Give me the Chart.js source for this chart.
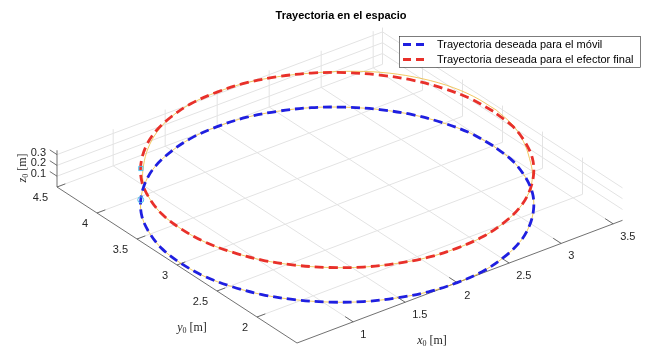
<!DOCTYPE html>
<html>
<head>
<meta charset="utf-8">
<script src="https://cdn.jsdelivr.net/npm/chart.js@4.4.1/dist/chart.umd.min.js"></script>
<style>
  html, body { margin: 0; background: #fff; }
  canvas { display: block; }
</style>
</head>
<body>
<canvas id="trayectoria" width="648" height="347"></canvas>
<script>
// Desired path in the floor plane (every 10 degrees), in metres
const circleX = [3.50, 3.48, 3.41, 3.30, 3.15, 2.96, 2.75, 2.51, 2.26, 2.00, 1.74, 1.49, 1.25, 1.04, 0.85, 0.70, 0.59, 0.52,
                 0.50, 0.52, 0.59, 0.70, 0.85, 1.04, 1.25, 1.49, 1.74, 2.00, 2.26, 2.51, 2.75, 2.96, 3.15, 3.30, 3.41, 3.48];
const circleY = [3.00, 3.26, 3.51, 3.75, 3.96, 4.15, 4.30, 4.41, 4.48, 4.50, 4.48, 4.41, 4.30, 4.15, 3.96, 3.75, 3.51, 3.26,
                 3.00, 2.74, 2.49, 2.25, 2.04, 1.85, 1.70, 1.59, 1.52, 1.50, 1.52, 1.59, 1.70, 1.85, 2.04, 2.25, 2.49, 2.74];
const zMovil = 0;
const zEfector = 0.32;

// Measured (real) paths
const realMovilX = [3.50, 3.48, 3.41, 3.30, 3.15, 2.96, 2.75, 2.51, 2.26, 2.00, 1.74, 1.49, 1.25, 1.04, 0.85, 0.70, 0.59, 0.52,
                    0.50, 0.52, 0.59, 0.70, 0.85, 1.04, 1.25, 1.49, 1.74, 2.00, 2.26, 2.51, 2.75, 2.96, 3.15, 3.30, 3.41, 3.48];
const realMovilY = [3.00, 3.26, 3.51, 3.75, 3.96, 4.15, 4.30, 4.41, 4.48, 4.50, 4.48, 4.41, 4.30, 4.15, 3.96, 3.75, 3.51, 3.26,
                    3.00, 2.74, 2.49, 2.25, 2.04, 1.85, 1.70, 1.59, 1.52, 1.50, 1.52, 1.59, 1.70, 1.85, 2.04, 2.25, 2.49, 2.74];
const realEfectorX = [3.53, 3.52, 3.46, 3.34, 3.18, 2.98, 2.75, 2.51, 2.26, 2.00, 1.74, 1.49, 1.26, 1.05, 0.87, 0.71, 0.59, 0.52,
                      0.50, 0.52, 0.59, 0.70, 0.85, 1.04, 1.25, 1.49, 1.74, 2.00, 2.26, 2.51, 2.75, 2.96, 3.14, 3.28, 3.40, 3.49];
const realEfectorY = [3.00, 3.27, 3.53, 3.78, 3.99, 4.16, 4.30, 4.41, 4.48, 4.50, 4.48, 4.41, 4.29, 4.13, 3.95, 3.75, 3.51, 3.26,
                      3.00, 2.74, 2.49, 2.25, 2.04, 1.85, 1.70, 1.59, 1.52, 1.50, 1.52, 1.59, 1.70, 1.85, 2.04, 2.26, 2.49, 2.74];
const realZMovil = 0;
const realZEfector = 0.32;

// start points of the real paths
const startMovil = [0.85, 3.96, 0];
const startEfector = [0.82, 3.92, 0.32];

// axes
const xLim = [0.46, 3.59];
const yLim = [1.5, 4.5];
const zLim = [0, 0.34];
const xTicks = [1, 1.5, 2, 2.5, 3, 3.5];
const yTicks = [2, 2.5, 3, 3.5, 4, 4.5];
const zTicks = [0.1, 0.2, 0.3];
const xTickLabels = ['1', '1.5', '2', '2.5', '3', '3.5'];
const yTickLabels = ['2', '2.5', '3', '3.5', '4', '4.5'];
const zTickLabels = ['0.1', '0.2', '0.3'];

const legendLabels = ['Trayectoria deseada para el móvil', 'Trayectoria deseada para el efector final'];

// view: screen direction of one unit along each axis (u to the right, v upward)
const X_DIR = [104, 39.2];
const Y_DIR = [-80, 52];
const Z_DIR = [0, 108];

function proj(x, y, z) {
    const dx = x - xLim[0], dy = y - yLim[0];
    return {
        x: X_DIR[0] * dx + Y_DIR[0] * dy + Z_DIR[0] * z,
        y: X_DIR[1] * dx + Y_DIR[1] * dy + Z_DIR[1] * z
    };
}

function loop(xs, ys, z) {
    const pts = xs.map((x, i) => proj(x, ys[i], z));
    pts.push(pts[0]);
    return pts;
}

const FONT = '"Liberation Sans", Arial, Helvetica, sans-serif';
const SERIF = '"Liberation Serif", "DejaVu Serif", serif';
const AXIS_COLOR = '#262626';
const GRID_COLOR = '#e3e3e3';

function px(chart, p) {
    return [chart.scales.x.getPixelForValue(p.x), chart.scales.y.getPixelForValue(p.y)];
}

function line3(ctx, chart, a, b) {
    const p = px(chart, proj(...a));
    const q = px(chart, proj(...b));
    ctx.moveTo(p[0], p[1]);
    ctx.lineTo(q[0], q[1]);
}

// x_0 [m] style label
function texLabel(ctx, sym, cx, cy, rot) {
    ctx.save();
    ctx.translate(cx, cy);
    ctx.rotate(rot);
    ctx.fillStyle = AXIS_COLOR;
    ctx.textBaseline = 'alphabetic';
    ctx.font = 'italic 12px ' + SERIF;
    const w1 = ctx.measureText(sym).width;
    ctx.font = '8px ' + SERIF;
    const w2 = ctx.measureText('0').width;
    ctx.font = '12px ' + SERIF;
    const w3 = ctx.measureText(' [m]').width;
    let x = -(w1 + w2 + w3) / 2;
    ctx.textAlign = 'left';
    ctx.font = 'italic 12px ' + SERIF;
    ctx.fillText(sym, x, 4); x += w1;
    ctx.font = '8px ' + SERIF;
    ctx.fillText('0', x, 6); x += w2;
    ctx.font = '12px ' + SERIF;
    ctx.fillText(' [m]', x, 4);
    ctx.restore();
}

const axes3d = {
    id: 'axes3d',
    beforeDatasetsDraw(chart) {
        const ctx = chart.ctx;
        const [x0, x1] = xLim, [y0, y1] = yLim, [z0, z1] = zLim;
        ctx.save();
        ctx.lineWidth = 1;
        ctx.strokeStyle = GRID_COLOR;
        ctx.beginPath();
        xTicks.forEach(x => {
            line3(ctx, chart, [x, y0, z0], [x, y1, z0]);
            line3(ctx, chart, [x, y1, z0], [x, y1, z1]);
        });
        yTicks.forEach(y => {
            line3(ctx, chart, [x0, y, z0], [x1, y, z0]);
            line3(ctx, chart, [x1, y, z0], [x1, y, z1]);
        });
        zTicks.forEach(z => {
            line3(ctx, chart, [x0, y1, z], [x1, y1, z]);
            line3(ctx, chart, [x1, y0, z], [x1, y1, z]);
        });
        ctx.stroke();

        // axis lines
        ctx.strokeStyle = '#4d4d4d';
        ctx.lineWidth = 0.8;
        ctx.beginPath();
        line3(ctx, chart, [x0, y0, z0], [x1, y0, z0]);
        line3(ctx, chart, [x0, y0, z0], [x0, y1, z0]);
        line3(ctx, chart, [x0, y1, z0], [x0, y1, z1]);
        // tick marks
        xTicks.forEach(x => line3(ctx, chart, [x, y0, z0], [x, y0 + 0.1, z0]));
        yTicks.forEach(y => line3(ctx, chart, [x0, y, z0], [x0 + 0.08, y, z0]));
        zTicks.forEach(z => line3(ctx, chart, [x0, y1, z], [x0, y1 + 0.09, z]));
        ctx.stroke();

        // tick labels
        ctx.fillStyle = AXIS_COLOR;
        ctx.font = '11px ' + FONT;
        ctx.textBaseline = 'middle';
        ctx.textAlign = 'left';
        xTicks.forEach((x, i) => {
            const p = px(chart, proj(x, y0, z0));
            ctx.fillText(xTickLabels[i], p[0] + 7, p[1] + 13);
        });
        ctx.textAlign = 'right';
        yTicks.forEach((y, i) => {
            const p = px(chart, proj(x0, y, z0));
            ctx.fillText(yTickLabels[i], p[0] - 9, p[1] + 11);
        });
        zTicks.forEach((z, i) => {
            const p = px(chart, proj(x0, y1, z));
            ctx.fillText(zTickLabels[i], p[0] - 11, p[1] - 2);
        });

        texLabel(ctx, 'x', 432, 340, 0);
        texLabel(ctx, 'y', 192, 327, 0);
        texLabel(ctx, 'z', 22, 168, -Math.PI / 2);
        ctx.restore();
    },
    afterDraw(chart) {
        const ctx = chart.ctx;
        ctx.save();
        // title
        ctx.fillStyle = '#000';
        ctx.font = 'bold 11px ' + FONT;
        ctx.textAlign = 'center';
        ctx.textBaseline = 'middle';
        ctx.fillText('Trayectoria en el espacio', 341, 16);

        // legend
        ctx.fillStyle = '#fff';
        ctx.fillRect(399, 36, 241, 31);
        ctx.strokeStyle = '#262626';
        ctx.lineWidth = 0.6;
        ctx.strokeRect(399.5, 36.5, 241, 31);
        const colors = ['#1f1fe0', '#e8302a'];
        legendLabels.forEach((label, i) => {
            const y = 44.5 + i * 15;
            ctx.strokeStyle = colors[i];
            ctx.lineWidth = 2.8;
            ctx.setLineDash([8, 5]);
            ctx.beginPath();
            ctx.moveTo(403, y);
            ctx.lineTo(424, y);
            ctx.stroke();
            ctx.setLineDash([]);
            ctx.fillStyle = '#000';
            ctx.font = '11px ' + FONT;
            ctx.textAlign = 'left';
            ctx.fillText(label, 437, y);
        });
        ctx.restore();
    }
};

const dashed = (data, color) => ({
    data, showLine: true, borderColor: color, borderWidth: 2.8, borderDash: [9, 5],
    pointRadius: 0, tension: 0.35, fill: false, order: 1
});
const thin = (data) => ({
    data, showLine: true, borderColor: 'rgba(237,177,32,0.7)', borderWidth: 1,
    pointRadius: 0, tension: 0.35, fill: false, order: 2
});
const marker = (p, style) => ({
    data: [proj(...p)], showLine: false, pointStyle: style, pointRadius: 3,
    pointBorderColor: '#4dbeee', pointBackgroundColor: 'rgba(0,0,0,0)', pointBorderWidth: 1, order: 0
});

new Chart(document.getElementById('trayectoria'), {
    type: 'scatter',
    data: {
        datasets: [
            marker(startMovil, 'circle'),
            marker(startEfector, 'rect'),
            dashed(loop(circleX, circleY, zMovil), '#1f1fe0'),
            dashed(loop(circleX, circleY, zEfector), '#e8302a'),
            thin(loop(realMovilX, realMovilY, realZMovil)),
            thin(loop(realEfectorX, realEfectorY, realZEfector))
        ]
    },
    options: {
        responsive: false,
        animation: false,
        devicePixelRatio: 1,
        layout: { padding: 0, autoPadding: false },
        scales: {
            x: { type: 'linear', min: -297, max: 351, display: false },
            y: { type: 'linear', min: -4, max: 343, display: false }
        },
        plugins: { legend: { display: false }, tooltip: { enabled: false } }
    },
    plugins: [axes3d]
});
</script>
</body>
</html>
